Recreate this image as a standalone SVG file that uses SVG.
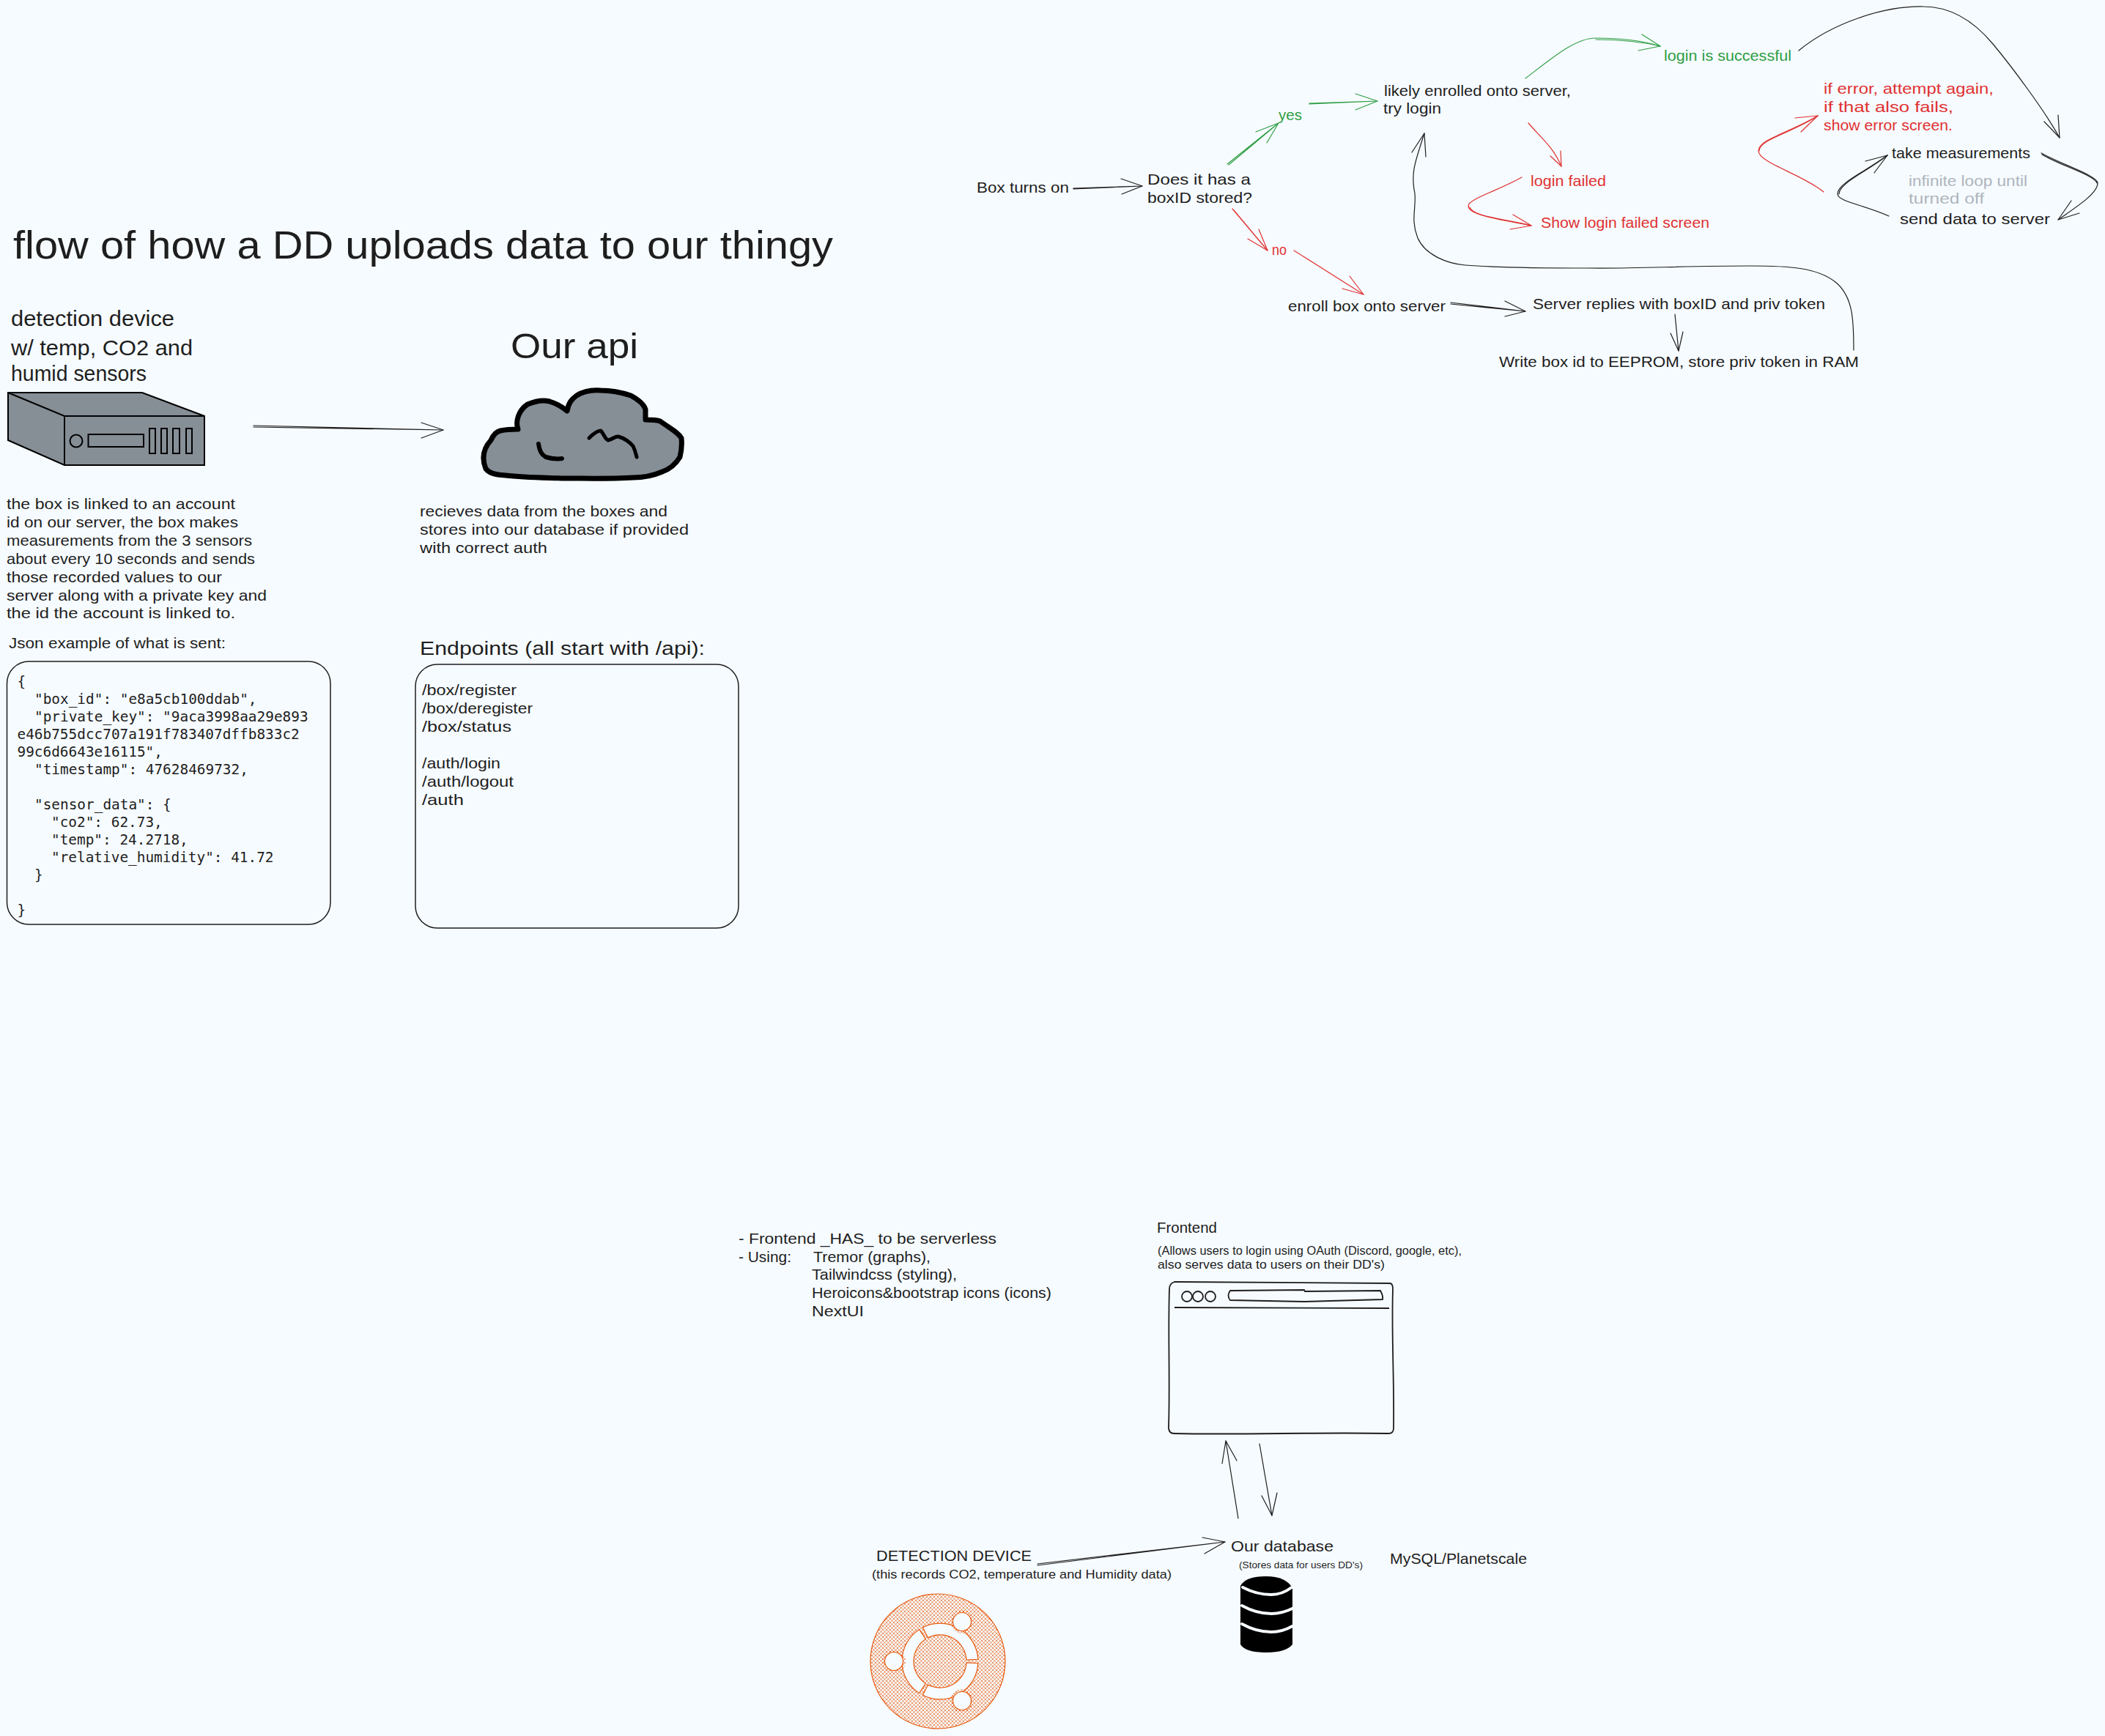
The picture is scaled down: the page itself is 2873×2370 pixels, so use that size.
<svg xmlns="http://www.w3.org/2000/svg" width="2873" height="2370" viewBox="0 0 2873 2370">
<style>
text{font-family:"Liberation Sans",Arial,sans-serif;fill:#1e1e1e;font-size:21px}
.t50{font-size:54px}.t48{font-size:48px}.t30{font-size:30px}.t26{font-size:26px}.t16{font-size:17px}.t13{font-size:13px}
.mono{font-family:"DejaVu Sans Mono",monospace;font-size:19.400px}
.green{fill:#2f9e44}.red{fill:#e03131}.grey{fill:#adb5bd}
.c{fill:none;stroke:#1e1e1e;stroke-width:1.200;stroke-linecap:round;stroke-linejoin:round}
.c.g{stroke:#2f9e44}.c.r{stroke:#e03131}
.box{fill:none;stroke:#1e1e1e;stroke-width:1.500}
.srv{fill:#868e96;stroke:#000;stroke-width:2}
.brow{fill:none;stroke:#1e1e1e;stroke-width:1.800}
.lg{fill:url(#hatch);stroke:#e8590c;stroke-width:1.200}
.lw{fill:#f6fbff;stroke:#e8590c;stroke-width:1.200}
.dbl{fill:none;stroke:#f6fbff;stroke-width:4;stroke-linecap:round}
</style>
<defs>
<pattern id="hatch" patternUnits="userSpaceOnUse" width="5" height="5">
<path d="M0 0L5 5M5 0L0 5" stroke="#e8590c" stroke-width="0.650" fill="none"/>
</pattern>
</defs>
<rect width="2873" height="2370" fill="#f6fbff"/>

<g id="title"><text class="t50" x="18" y="353" textLength="1119" lengthAdjust="spacingAndGlyphs">flow of how a DD uploads data to our thingy</text></g>

<g id="detection-device">
<text class="t30" x="15" y="445" textLength="223" lengthAdjust="spacingAndGlyphs">detection device</text>
<text class="t30" x="15" y="485" textLength="248" lengthAdjust="spacingAndGlyphs">w/ temp, CO2 and</text>
<text class="t30" x="15" y="520" textLength="185" lengthAdjust="spacingAndGlyphs">humid sensors</text>
<path class="srv" d="M11 536L194 536L279 568L279 635L88 635L11 601Z"/>
<path class="srv" d="M11 536L88 568L279 568M88 568L88 635"/>
<ellipse class="srv" cx="104" cy="602" rx="8.500" ry="8.500"/>
<rect class="srv" x="120.500" y="593" width="75.500" height="17"/>
<rect class="srv" x="204" y="585" width="8" height="34"/>
<rect class="srv" x="220" y="585" width="8" height="34"/>
<rect class="srv" x="236" y="585" width="9" height="34"/>
<rect class="srv" x="254" y="585" width="8" height="34"/>
</g>

<g id="api">
<text class="t48" x="697" y="489" textLength="174" lengthAdjust="spacingAndGlyphs">Our api</text>
<path d="M663 640C657 625 660 612 670 601C674 592 678 589 683 588C692 586 700 586 707 586C703 575 708 560 720 552C732 547 742 546 750 548C760 551 768 556 774 561C776 550 780 545 787 540C798 533 808 532 820 533C838 533 852 537 861 540C872 546 879 552 881 559L881 573C890 573 896 573 901 575C915 585 925 590 930 598C931 608 930 616 928 624C922 634 915 640 904 644C890 650 878 652 864 652C830 654 800 653 770 653C740 652 715 652 690 649C675 648 668 646 663 640Z" fill="#868e96" stroke="#000" stroke-width="7" stroke-linejoin="round"/>
<path d="M735 606C736 615 739 621 745 624C752 626 760 627 767 626" fill="none" stroke="#000" stroke-width="6" stroke-linecap="round"/>
<path d="M804 598C810 592 815 588 820 588C824 592 826 600 830 601C836 600 840 595 844 596C852 598 860 604 864 609C867 615 868 620 869 624" fill="none" stroke="#000" stroke-width="5" stroke-linecap="round" stroke-linejoin="round"/>
</g>

<g id="device-notes">
<text x="9" y="695" textLength="312" lengthAdjust="spacingAndGlyphs">the box is linked to an account</text>
<text x="9" y="720" textLength="316" lengthAdjust="spacingAndGlyphs">id on our server, the box makes</text>
<text x="9" y="745" textLength="335" lengthAdjust="spacingAndGlyphs">measurements from the 3 sensors</text>
<text x="9" y="770" textLength="339" lengthAdjust="spacingAndGlyphs">about every 10 seconds and sends</text>
<text x="9" y="795" textLength="294" lengthAdjust="spacingAndGlyphs">those recorded values to our</text>
<text x="9" y="820" textLength="355" lengthAdjust="spacingAndGlyphs">server along with a private key and</text>
<text x="9" y="844" textLength="312" lengthAdjust="spacingAndGlyphs">the id the account is linked to.</text>
</g>

<g id="api-notes">
<text x="573" y="705" textLength="338" lengthAdjust="spacingAndGlyphs">recieves data from the boxes and</text>
<text x="573" y="730" textLength="367" lengthAdjust="spacingAndGlyphs">stores into our database if provided</text>
<text x="573" y="755" textLength="174" lengthAdjust="spacingAndGlyphs">with correct auth</text>
</g>

<g id="json-box">
<text x="12" y="885" textLength="296" lengthAdjust="spacingAndGlyphs">Json example of what is sent:</text>
<rect class="box" x="9.500" y="903" width="441.500" height="359" rx="30"/>
<text class="mono" x="23.500" y="937">{</text>
<text class="mono" x="47" y="961">"box_id": "e8a5cb100ddab",</text>
<text class="mono" x="47" y="985">"private_key": "9aca3998aa29e893</text>
<text class="mono" x="23.500" y="1009">e46b755dcc707a191f783407dffb833c2</text>
<text class="mono" x="23.500" y="1033">99c6d6643e16115",</text>
<text class="mono" x="47" y="1057">"timestamp": 47628469732,</text>
<text class="mono" x="47" y="1105">"sensor_data": {</text>
<text class="mono" x="70" y="1129">"co2": 62.73,</text>
<text class="mono" x="70" y="1153">"temp": 24.2718,</text>
<text class="mono" x="70" y="1177">"relative_humidity": 41.72</text>
<text class="mono" x="47" y="1201">}</text>
<text class="mono" x="23.500" y="1249">}</text>
</g>

<g id="endpoints-box">
<text class="t26" x="573" y="894" textLength="389" lengthAdjust="spacingAndGlyphs">Endpoints (all start with /api):</text>
<rect class="box" x="567" y="907" width="441" height="360" rx="30"/>
<text x="576" y="949" textLength="129" lengthAdjust="spacingAndGlyphs">/box/register</text>
<text x="576" y="974" textLength="151" lengthAdjust="spacingAndGlyphs">/box/deregister</text>
<text x="576" y="999" textLength="122" lengthAdjust="spacingAndGlyphs">/box/status</text>
<text x="576" y="1049" textLength="107" lengthAdjust="spacingAndGlyphs">/auth/login</text>
<text x="576" y="1074" textLength="125" lengthAdjust="spacingAndGlyphs">/auth/logout</text>
<text x="576" y="1099" textLength="57" lengthAdjust="spacingAndGlyphs">/auth</text>
</g>

<g id="n-box-on"><text x="1333" y="263" textLength="126" lengthAdjust="spacingAndGlyphs">Box turns on</text></g>
<g id="n-has-id">
<text x="1566" y="252" textLength="141" lengthAdjust="spacingAndGlyphs">Does it has a</text>
<text x="1566" y="277" textLength="143" lengthAdjust="spacingAndGlyphs">boxID stored?</text>
</g>
<g id="n-yes"><text class="green" x="1745" y="164" textLength="32" lengthAdjust="spacingAndGlyphs">yes</text></g>
<g id="n-no"><text class="red" x="1736" y="348" textLength="20" lengthAdjust="spacingAndGlyphs">no</text></g>
<g id="n-likely">
<text x="1889" y="131" textLength="255" lengthAdjust="spacingAndGlyphs">likely enrolled onto server,</text>
<text x="1888" y="155" textLength="79" lengthAdjust="spacingAndGlyphs">try login</text>
</g>
<g id="n-success"><text class="green" x="2271" y="83" textLength="174" lengthAdjust="spacingAndGlyphs">login is successful</text></g>
<g id="n-error">
<text class="red" x="2489" y="128" textLength="232" lengthAdjust="spacingAndGlyphs">if error, attempt again,</text>
<text class="red" x="2489" y="153" textLength="177" lengthAdjust="spacingAndGlyphs">if that also fails,</text>
<text class="red" x="2489" y="178" textLength="176" lengthAdjust="spacingAndGlyphs">show error screen.</text>
</g>
<g id="n-measure"><text x="2582" y="216" textLength="189" lengthAdjust="spacingAndGlyphs">take measurements</text></g>
<g id="n-loop">
<text class="grey" x="2605" y="254" textLength="162" lengthAdjust="spacingAndGlyphs">infinite loop until</text>
<text class="grey" x="2605" y="278" textLength="103" lengthAdjust="spacingAndGlyphs">turned off</text>
</g>
<g id="n-send"><text x="2593" y="306" textLength="205" lengthAdjust="spacingAndGlyphs">send data to server</text></g>
<g id="n-login-failed"><text class="red" x="2089" y="254" textLength="103" lengthAdjust="spacingAndGlyphs">login failed</text></g>
<g id="n-failed-screen"><text class="red" x="2103" y="311" textLength="230" lengthAdjust="spacingAndGlyphs">Show login failed screen</text></g>
<g id="n-enroll"><text x="1758" y="425" textLength="215" lengthAdjust="spacingAndGlyphs">enroll box onto server</text></g>
<g id="n-replies"><text x="2092" y="422" textLength="399" lengthAdjust="spacingAndGlyphs">Server replies with boxID and priv token</text></g>
<g id="n-write"><text x="2046" y="501" textLength="491" lengthAdjust="spacingAndGlyphs">Write box id to EEPROM, store priv token in RAM</text></g>

<g id="frontend-notes">
<text x="1008" y="1698" textLength="352" lengthAdjust="spacingAndGlyphs">- Frontend _HAS_ to be serverless</text>
<text x="1008" y="1723" textLength="72" lengthAdjust="spacingAndGlyphs">- Using:</text>
<text x="1110" y="1723" textLength="160" lengthAdjust="spacingAndGlyphs">Tremor (graphs),</text>
<text x="1108" y="1747" textLength="198" lengthAdjust="spacingAndGlyphs">Tailwindcss (styling),</text>
<text x="1108" y="1772" textLength="327" lengthAdjust="spacingAndGlyphs">Heroicons&amp;bootstrap icons (icons)</text>
<text x="1108" y="1797" textLength="71" lengthAdjust="spacingAndGlyphs">NextUI</text>
</g>

<g id="frontend">
<text x="1579" y="1683" textLength="82" lengthAdjust="spacingAndGlyphs">Frontend</text>
<text class="t16" x="1580" y="1713" textLength="415" lengthAdjust="spacingAndGlyphs">(Allows users to login using OAuth (Discord, google, etc),</text>
<text class="t16" x="1580" y="1732" textLength="310" lengthAdjust="spacingAndGlyphs">also serves data to users on their DD's)</text>
<path class="brow" d="M1603 1750L1897 1752Q1901 1752 1901 1760C1899 1820 1903 1880 1902 1950Q1902 1957 1895 1957C1800 1955 1700 1959 1602 1957Q1596 1957 1595 1950C1597 1880 1594 1820 1596 1760Q1596 1752 1603 1750Z"/>
<ellipse class="brow" cx="1620" cy="1770" rx="7" ry="7"/>
<ellipse class="brow" cx="1635" cy="1770" rx="7" ry="7"/>
<ellipse class="brow" cx="1652" cy="1770" rx="7" ry="7"/>
<path class="brow" d="M1679 1762L1780 1761L1781 1763L1884 1762Q1888 1769 1887 1774L1780 1777L1679 1775Q1674 1769 1679 1762Z"/>
<path class="brow" d="M1603 1785L1896 1786" stroke-width="2.500"/>
</g>

<g id="database">
<text x="1680" y="2118" textLength="140" lengthAdjust="spacingAndGlyphs">Our database</text>
<text class="t13" x="1691" y="2141" textLength="169" lengthAdjust="spacingAndGlyphs">(Stores data for users DD's)</text>
<path d="M1693 2165Q1700 2152 1728 2152Q1755 2152 1764 2168L1764 2245Q1755 2256 1728 2256Q1700 2256 1693 2245Z" fill="#000"/>
<path class="dbl" d="M1696 2167Q1715 2177 1735 2177Q1750 2177 1763 2167"/>
<path class="dbl" d="M1695 2192Q1715 2203 1735 2203Q1750 2203 1766 2195"/>
<path class="dbl" d="M1695 2217Q1715 2228 1735 2228Q1750 2228 1764 2220"/>
</g>
<g id="mysql"><text x="1897" y="2135" textLength="187" lengthAdjust="spacingAndGlyphs">MySQL/Planetscale</text></g>

<g id="device-logo">
<text x="1196" y="2131" textLength="212" lengthAdjust="spacingAndGlyphs">DETECTION DEVICE</text>
<text class="t16" x="1190" y="2155" textLength="409" lengthAdjust="spacingAndGlyphs">(this records CO2, temperature and Humidity data)</text>
<circle class="lg" cx="1280" cy="2268" r="92"/>
<path class="lw" d="M1334.900 2265.300A52 52 0 0 0 1259.400 2221.700L1266.700 2235.900A36 36 0 0 1 1319 2266.100Z"/>
<path class="lw" d="M1334.900 2270.700A52 52 0 0 1 1259.400 2314.300L1266.700 2300.100A36 36 0 0 0 1319 2269.900Z"/>
<path class="lw" d="M1254.700 2224.400A52 52 0 0 0 1254.700 2311.600L1263.400 2298.200A36 36 0 0 1 1263.400 2237.800Z"/>
<circle cx="1313" cy="2214" r="16" fill="url(#hatch)"/>
<circle cx="1220" cy="2268" r="16" fill="url(#hatch)"/>
<circle cx="1313" cy="2322" r="16" fill="url(#hatch)"/>
<circle class="lw" cx="1313" cy="2214" r="12.500"/>
<circle class="lw" cx="1220" cy="2268" r="12.500"/>
<circle class="lw" cx="1313" cy="2322" r="12.500"/>
</g>

<g id="connectors">
<g class="c"><path d="M346 581L605 587M346 583L605 587"/><path d="M575 577L605 587L575 598"/></g>
<g class="c"><path d="M1465 257L1559 254M1465 258L1559 254"/><path d="M1530 244L1559 254L1531 265"/></g>
<g class="c g"><path d="M1675 224L1745 168M1677 225L1745 168"/><path d="M1714 180L1745 168L1729 195"/></g>
<g class="c g"><path d="M1787 141L1880 138M1787 142L1880 138"/><path d="M1850 128L1880 138L1850 150"/></g>
<g class="c r"><path d="M1682 285L1730 342M1684 287L1730 342"/><path d="M1718 313L1730 342L1703 326"/></g>
<g class="c r"><path d="M1766 342L1861 402"/><path d="M1842 377L1861 402L1832 394"/></g>
<g class="c"><path d="M1980 413L2082 425M1980 415L2082 425"/><path d="M2054 411L2082 425L2054 432"/></g>
<g class="c"><path d="M2530 478C2530 440 2530 405 2505 385C2480 365 2440 363 2390 363C2300 363 2230 367 2167 366C2100 366 2040 365 2000 362C1975 360 1945 348 1935 325C1925 300 1933 285 1931 264C1925 235 1932 220 1944 182"/><path d="M1927 208L1944 182L1946 214"/></g>
<g class="c g"><path d="M2082 107C2120 78 2150 52 2178 52C2205 52 2240 55 2266 63"/><path d="M2178 54C2205 54 2240 57 2266 63"/><path d="M2241 47L2266 63L2236 69"/></g>
<g class="c"><path d="M2455 69C2500 32 2570 8 2625 9C2665 9 2695 30 2720 60C2745 90 2790 150 2811 188"/><path d="M2790 166L2811 188L2809 157"/></g>
<g class="c r"><path d="M2489 262C2460 238 2400 222 2400 206C2400 190 2445 180 2481 158"/><path d="M2401 206C2401 190 2445 182 2481 158"/><path d="M2450 161L2481 158L2458 180"/></g>
<g class="c"><path d="M2786 209C2815 225 2863 240 2863 250C2863 265 2830 285 2809 300"/><path d="M2787 211C2815 227 2860 240 2862 250"/><path d="M2827 274L2809 300L2838 291"/></g>
<g class="c"><path d="M2578 295C2545 280 2508 275 2508 265C2508 250 2545 235 2576 212"/><path d="M2510 265C2510 250 2547 235 2576 212"/><path d="M2546 220L2576 212L2558 236"/></g>
<g class="c r"><path d="M2086 168C2100 185 2120 200 2131 227"/><path d="M2116 213L2131 227L2130 206"/></g>
<g class="c r"><path d="M2077 242C2045 260 2004 272 2004 281C2004 295 2050 298 2090 308"/><path d="M2006 283C2010 295 2050 300 2090 308"/><path d="M2065 293L2090 308L2061 313"/></g>
<g class="c"><path d="M2286 429L2291 479"/><path d="M2280 455L2291 479L2297 453"/></g>
<g class="c"><path d="M1690 2073L1673 1967"/><path d="M1668 1998L1673 1967L1688 1994"/></g>
<g class="c"><path d="M1719 1971L1736 2069"/><path d="M1722 2042L1736 2069L1743 2038"/></g>
<g class="c"><path d="M1416 2135L1672 2105M1416 2137L1672 2105"/><path d="M1641 2099L1672 2105L1644 2121"/></g>
</g>
</svg>
